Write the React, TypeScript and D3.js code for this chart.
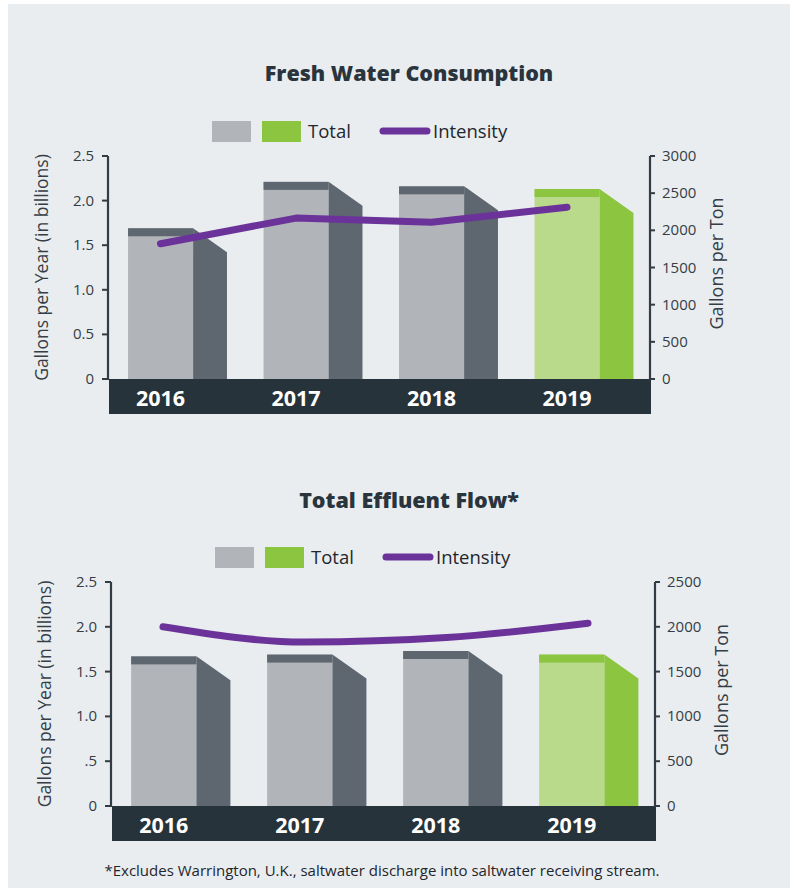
import React from "react";
import * as d3 from "d3";

const years = ["2016", "2017", "2018", "2019"];
const freshTotal = [1.69, 2.21, 2.16, 2.13];
const freshIntensity = [1820, 2165, 2110, 2310];
const effluentTotal = [1.67, 1.69, 1.73, 1.69];
const effluentIntensity = [2000, 1830, 1880, 2040];
const leftTickValues = [0, 0.5, 1, 1.5, 2, 2.5];
const freshLeftTickLabels = ["0", "0.5", "1.0", "1.5", "2.0", "2.5"];
const effluentLeftTickLabels = ["0", ".5", "1.0", "1.5", "2.0", "2.5"];
const freshRightTicks = [0, 500, 1000, 1500, 2000, 2500, 3000];
const effluentRightTicks = [0, 500, 1000, 1500, 2000, 2500];
const footnote = "*Excludes Warrington, U.K., saltwater discharge into saltwater receiving stream.";

const FONT = "'Open Sans', 'DejaVu Sans', sans-serif";
const TEXT = "#2a343d";
const GRAY_FRONT = "#b1b4b8";
const GRAY_DARK = "#5e6770";
const GREEN_FRONT = "#b9d98b";
const GREEN_DARK = "#8cc53f";
const BAND = "#27333b";
const PURPLE = "#6b3399";

type ChartProps = {
  title: string;
  totals: number[];
  intensity: number[];
  leftLabels: string[];
  rightTicks: number[];
  rightMax: number;
  left: number;
  right: number;
  top: number;
  bottom: number;
  titleY: number;
  legendY: number;
  lineRange: [number, number];
  curved: boolean;
};

function Chart(p: ChartProps) {
  const x = d3.scaleBand<string>().domain(years).range([p.left, p.right]).padding(0);
  const bw = x.bandwidth();
  const y = d3.scaleLinear().domain([0, 2.5]).range([p.bottom, p.top]);
  const yr = d3.scaleLinear().domain([0, p.rightMax]).range([p.bottom, p.top]);
  const xl = d3.scalePoint<string>().domain(years).range(p.lineRange);
  const frontOff = bw * 0.148;
  const frontW = bw * 0.48;
  const sideW = bw * 0.25;
  const drop = 24;
  const strip = 8;
  const line = d3
    .line<number>()
    .x((_, i) => xl(years[i]) as number)
    .y((d) => yr(d))
    .curve(p.curved ? d3.curveMonotoneX : d3.curveLinear);
  const midY = (p.top + p.bottom) / 2;
  const lx = p.left + 104;
  return (
    <g fontFamily={FONT}>
      <text x={409} y={p.titleY} textAnchor="middle" fontSize={21.5} fontWeight={800} fill={TEXT}>
        {p.title}
      </text>
      {/* legend */}
      <rect x={lx} y={p.legendY - 10} width={39} height={21} fill={GRAY_FRONT} />
      <rect x={lx + 50} y={p.legendY - 10} width={39} height={21} fill={GREEN_DARK} />
      <text x={lx + 96} y={p.legendY + 7} fontSize={18.5} fill="#1f262c">Total</text>
      <line x1={lx + 171} x2={lx + 215} y1={p.legendY} y2={p.legendY} stroke={PURPLE} strokeWidth={7} strokeLinecap="round" />
      <text x={lx + 221} y={p.legendY + 7} fontSize={18.5} fill="#1f262c">Intensity</text>
      {/* bars */}
      {years.map((yrName, i) => {
        const v = p.totals[i];
        const x0 = (x(yrName) as number) + frontOff;
        const x1 = x0 + frontW;
        const x2 = x1 + sideW;
        const yt = y(v);
        const green = i === years.length - 1;
        const front = green ? GREEN_FRONT : GRAY_FRONT;
        const dark = green ? GREEN_DARK : GRAY_DARK;
        return (
          <g key={yrName}>
            <rect x={x0} y={yt} width={frontW} height={p.bottom - yt} fill={front} />
            <rect x={x0} y={yt} width={frontW} height={strip} fill={dark} />
            <path d={`M${x1},${yt}L${x2},${yt + drop}L${x2},${p.bottom}L${x1},${p.bottom}Z`} fill={dark} />
          </g>
        );
      })}
      {/* band */}
      <rect x={p.left + 1} y={p.bottom} width={p.right - p.left} height={35} fill={BAND} />
      {years.map((yrName) => (
        <text
          key={yrName}
          x={(x(yrName) as number) + frontOff + frontW / 2}
          y={p.bottom + 27}
          textAnchor="middle"
          fontSize={21.5}
          fontWeight={700}
          fill="#ffffff"
        >
          {yrName}
        </text>
      ))}
      {/* left axis */}
      <line x1={p.left} x2={p.left} y1={p.top} y2={p.bottom + 1} stroke="#333b44" strokeWidth={2.2} />
      {leftTickValues.map((t, i) => (
        <g key={t}>
          <line x1={p.left - 6} x2={p.left} y1={y(t)} y2={y(t)} stroke="#333b44" strokeWidth={2} />
          <text x={p.left - 14} y={y(t) + 5} textAnchor="end" fontSize={15} fill="#353d45">
            {p.leftLabels[i]}
          </text>
        </g>
      ))}
      <text
        transform={`translate(${p.left - 60},${midY}) rotate(-90)`}
        textAnchor="middle"
        fontSize={17.5}
        fill="#353d45"
      >
        Gallons per Year (in billions)
      </text>
      {/* right axis */}
      <line x1={p.right} x2={p.right} y1={p.top} y2={p.bottom + 1} stroke="#333b44" strokeWidth={2.2} />
      {p.rightTicks.map((t) => (
        <g key={t}>
          <line x1={p.right} x2={p.right + 5} y1={yr(t)} y2={yr(t)} stroke="#333b44" strokeWidth={2} />
          <text x={p.right + 12} y={yr(t) + 5} fontSize={15} fill="#353d45">
            {t}
          </text>
        </g>
      ))}
      <text
        transform={`translate(${p.right + 73},${midY - 4}) rotate(-90)`}
        textAnchor="middle"
        fontSize={18}
        fill="#353d45"
      >
        Gallons per Ton
      </text>
      {/* intensity line */}
      <path d={line(p.intensity) as string} fill="none" stroke={PURPLE} strokeWidth={7} strokeLinecap="round" strokeLinejoin="round" />
    </g>
  );
}

export default function App() {
  return (
    <svg
      width={795}
      height={888}
      style={{ position: "absolute", left: 0, top: 0, display: "block" }}
    >
      <rect x={0} y={0} width={795} height={888} fill="#ffffff" />
      <rect x={8} y={4} width={782} height={884} fill="#e9edf0" />
      <Chart
        title="Fresh Water Consumption"
        totals={freshTotal}
        intensity={freshIntensity}
        leftLabels={freshLeftTickLabels}
        rightTicks={freshRightTicks}
        rightMax={3000}
        left={108}
        right={650}
        top={156}
        bottom={379}
        titleY={81}
        legendY={131}
        lineRange={[160.5, 567]}
        curved={false}
      />
      <Chart
        title="Total Effluent Flow*"
        totals={effluentTotal}
        intensity={effluentIntensity}
        leftLabels={effluentLeftTickLabels}
        rightTicks={effluentRightTicks}
        rightMax={2500}
        left={111}
        right={655}
        top={582}
        bottom={806}
        titleY={508}
        legendY={557}
        lineRange={[163, 588]}
        curved={true}
      />
      <text x={382} y={876} textAnchor="middle" fontFamily={FONT} fontSize={15} fill="#1f262c">
        {footnote}
      </text>
    </svg>
  );
}
